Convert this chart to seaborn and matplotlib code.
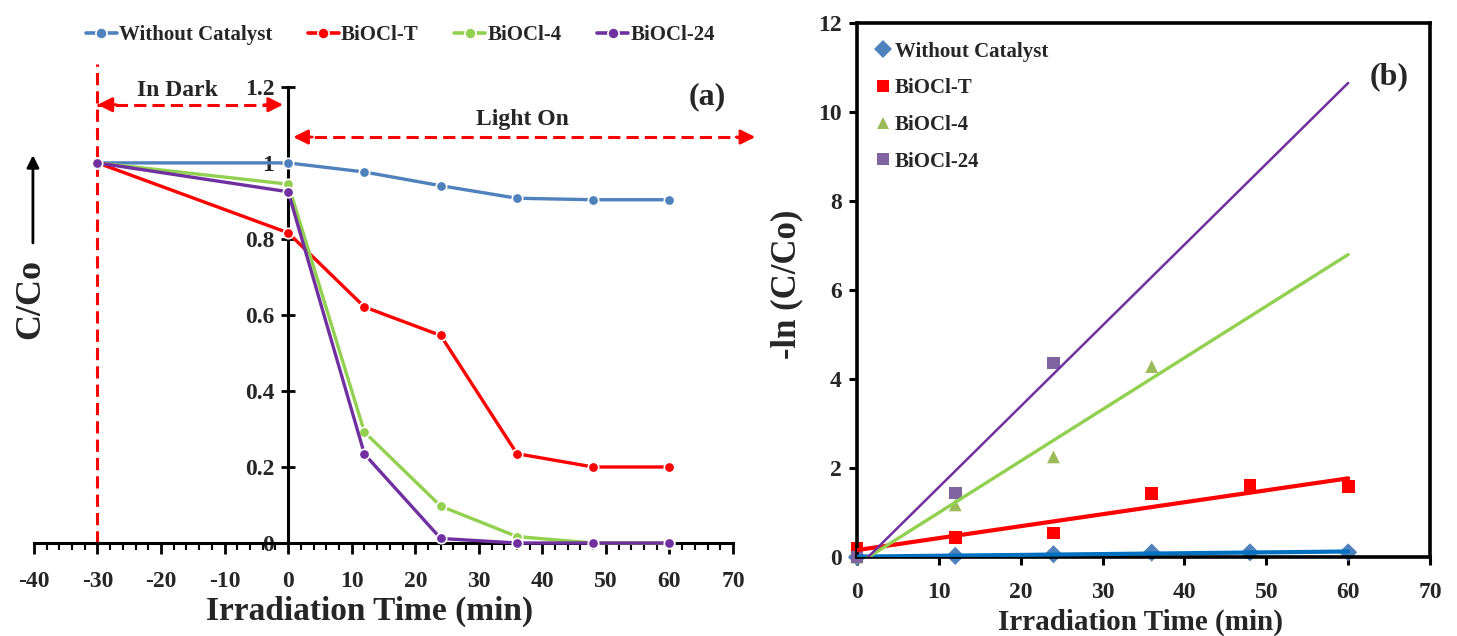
import numpy as np
import pandas as pd
import seaborn as sns
import matplotlib.pyplot as plt
from matplotlib.ticker import MultipleLocator, FuncFormatter

# (a) C/Co vs time, dark adsorption starts at -30 min
names = ['Without Catalyst', 'BiOCl-T', 'BiOCl-4', 'BiOCl-24']
t_a = [-30, 0, 12, 24, 36, 48, 60]
c_without = [1.0, 1.0, 0.976, 0.94, 0.907, 0.903, 0.903]
c_t = [1.0, 0.816, 0.621, 0.546, 0.235, 0.2, 0.2]
c_4 = [1.0, 0.944, 0.292, 0.097, 0.017, 0.0, 0.0]
c_24 = [1.0, 0.924, 0.234, 0.012, 0.0, 0.0, 0.0]

# (b) -ln(C/Co) vs time
t_without = [0, 12, 24, 36, 48, 60]
k_without = [0.0, 0.025, 0.062, 0.10, 0.105, 0.105]
t_t = [0, 12, 24, 36, 48, 60]
k_t = [0.2, 0.43, 0.54, 1.42, 1.6, 1.58]
t_4 = [0, 12, 24, 36]
k_4 = [0.0, 1.17, 2.25, 4.28]
t_24 = [0, 12, 24]
k_24 = [0.0, 1.44, 4.36]

line_pal = {'Without Catalyst': '#4F81BD', 'BiOCl-T': '#FF0000',
            'BiOCl-4': '#92D050', 'BiOCl-24': '#7030A0'}
mark_pal = {'Without Catalyst': '#4F81BD', 'BiOCl-T': '#FF0000',
            'BiOCl-4': '#9BBB59', 'BiOCl-24': '#8064A2'}
fit_pal = {'Without Catalyst': '#0070C0', 'BiOCl-T': '#FF0000',
           'BiOCl-4': '#92D050', 'BiOCl-24': '#7030A0'}
fit_lw = {'Without Catalyst': 3.0, 'BiOCl-T': 3.0, 'BiOCl-4': 2.4, 'BiOCl-24': 1.8}

sns.set_style('white')
plt.rcParams['font.family'] = ['Liberation Serif', 'DejaVu Serif']
plt.rcParams['font.weight'] = 'bold'
plt.rcParams['axes.labelweight'] = 'bold'
plt.rcParams['axes.unicode_minus'] = False

fig = plt.figure(figsize=(14.57, 6.36), dpi=100)
ax1 = fig.add_axes([0.0233, 0.1462, 0.4798, 0.7531])
ax2 = fig.add_axes([0.5882, 0.1242, 0.3933, 0.8396])

# ---------- panel (a)
left = pd.DataFrame({
    'time': t_a * 4,
    'c': c_without + c_t + c_4 + c_24,
    'sample': np.repeat(names, len(t_a)),
})
sns.lineplot(data=left, x='time', y='c', hue='sample', style='sample',
             hue_order=names, style_order=names, palette=line_pal,
             markers={n: 'o' for n in names}, dashes=False,
             markersize=7.5, linewidth=2.4, markeredgewidth=1.2,
             ax=ax1, clip_on=False, zorder=3)

ax1.set_xlim(-40, 70)
ax1.set_ylim(0, 1.26)
for s in ['top', 'right']:
    ax1.spines[s].set_visible(False)
ax1.spines['left'].set_position(('data', 0))
ax1.spines['left'].set_bounds(0, 1.2)
ax1.spines['left'].set_linewidth(2.2)
ax1.spines['bottom'].set_linewidth(2.2)
ax1.spines['left'].set_color('black')
ax1.spines['bottom'].set_color('black')
ax1.xaxis.set_major_locator(MultipleLocator(10))
ax1.xaxis.set_minor_locator(MultipleLocator(2))
ax1.set_yticks(np.arange(0, 1.21, 0.2))
ax1.yaxis.set_major_formatter(FuncFormatter(lambda v, p: f'{v:g}'))
ax1.tick_params(axis='x', which='both', bottom=True)
ax1.tick_params(axis='y', which='major', left=True)
ax1.tick_params(axis='x', which='major', direction='out', length=8, width=2,
                pad=12, labelsize=17, color='black')
ax1.tick_params(axis='x', which='minor', direction='out', length=5, width=1.5,
                color='black')
ax1.tick_params(axis='y', which='major', direction='inout', length=10, width=2,
                pad=5, labelsize=17, color='black')
ax1.set_xlabel('Irradiation Time (min)', fontsize=24)
ax1.xaxis.set_label_coords(0.48, -0.11)
ax1.set_ylabel('')

ax1.axvline(-30, color='red', ls=(0, (4, 2)), lw=2.2)
ax1.plot([-30, -1.5], [1.153, 1.153], color='red', ls=(0, (4, 2)), lw=2.2)
ax1.plot([1.2, 72], [1.068, 1.068], color='red', ls=(0, (4, 2)), lw=2.2, clip_on=False)
arrow = dict(arrowstyle='-|>', color='red', lw=2, mutation_scale=22, shrinkA=0, shrinkB=0)
ax1.annotate('', xy=(-30, 1.153), xytext=(-27, 1.153), arrowprops=arrow)
ax1.annotate('', xy=(-0.8, 1.153), xytext=(-3.8, 1.153), arrowprops=arrow)
ax1.annotate('', xy=(0.8, 1.068), xytext=(3.8, 1.068), arrowprops=arrow, annotation_clip=False)
ax1.annotate('', xy=(73.5, 1.068), xytext=(70.5, 1.068), arrowprops=arrow, annotation_clip=False)
ax1.text(-17.5, 1.19, 'In Dark', fontsize=17, ha='center', va='center')
ax1.text(36.9, 1.113, 'Light On', fontsize=17, ha='center', va='center')
ax1.text(66, 1.174, '(a)', fontsize=23, ha='center', va='center')

fig.text(0.021, 0.53, 'C/Co', rotation=90, fontsize=26, ha='center', va='center')
ax1.annotate('', xy=(0.0226, 0.756), xytext=(0.0226, 0.618), xycoords='figure fraction',
             textcoords='figure fraction',
             arrowprops=dict(arrowstyle='-|>', color='black', lw=2, mutation_scale=18,
                             shrinkA=0, shrinkB=0))

sns.move_legend(ax1, 'lower center', bbox_to_anchor=(0.524, 1.0), ncol=4,
                frameon=False, title=None, fontsize=15, handlelength=1.5,
                handletextpad=0.1, columnspacing=1.7, borderaxespad=0.5)
for h in ax1.get_legend().legend_handles:
    h.set_markersize(8)
    h.set_linewidth(2.6)

# ---------- panel (b)
right = pd.DataFrame({
    'time': t_without + t_t + t_4 + t_24,
    'k': k_without + k_t + k_4 + k_24,
    'sample': ['Without Catalyst'] * len(t_without) + ['BiOCl-T'] * len(t_t)
              + ['BiOCl-4'] * len(t_4) + ['BiOCl-24'] * len(t_24),
})
sns.scatterplot(data=right, x='time', y='k', hue='sample', style='sample',
                hue_order=names, style_order=names, palette=mark_pal,
                markers={'Without Catalyst': 'D', 'BiOCl-T': 's',
                         'BiOCl-4': '^', 'BiOCl-24': 's'},
                s=85, linewidth=0, ax=ax2, clip_on=False, zorder=2)

# linear trendlines drawn across 0-60 min
t_fit = np.array([0.0, 60.0])
for n, tt, kk in zip(names, [t_without, t_t, t_4, t_24], [k_without, k_t, k_4, k_24]):
    slope, icpt = np.polyfit(tt, kk, 1)
    sns.lineplot(x=t_fit, y=slope * t_fit + icpt, color=fit_pal[n], lw=fit_lw[n],
                 ax=ax2, legend=False, zorder=3)

ax2.set_xlim(0, 70)
ax2.set_ylim(0, 12)
for s in ax2.spines.values():
    s.set_linewidth(2.6)
    s.set_color('black')
ax2.xaxis.set_major_locator(MultipleLocator(10))
ax2.yaxis.set_major_locator(MultipleLocator(2))
ax2.tick_params(axis='both', which='major', bottom=True, left=True)
ax2.tick_params(axis='both', which='major', direction='out', length=6, width=2.2,
                labelsize=17, color='black')
ax2.tick_params(axis='x', pad=12)
ax2.tick_params(axis='y', pad=5)
ax2.set_xlabel('Irradiation Time (min)', fontsize=21)
ax2.xaxis.set_label_coords(0.494, -0.097)
ax2.set_ylabel('-ln (C/Co)', fontsize=25)
ax2.yaxis.set_label_coords(-0.094, 0.51)
ax2.text(65, 10.8, '(b)', fontsize=23, ha='center', va='center')

sns.move_legend(ax2, 'upper left', bbox_to_anchor=(-0.01, 1.0), frameon=False,
                title=None, fontsize=15, handletextpad=0.0, labelspacing=0.8,
                handlelength=1.2)

fig.savefig('out.png', dpi=100)
